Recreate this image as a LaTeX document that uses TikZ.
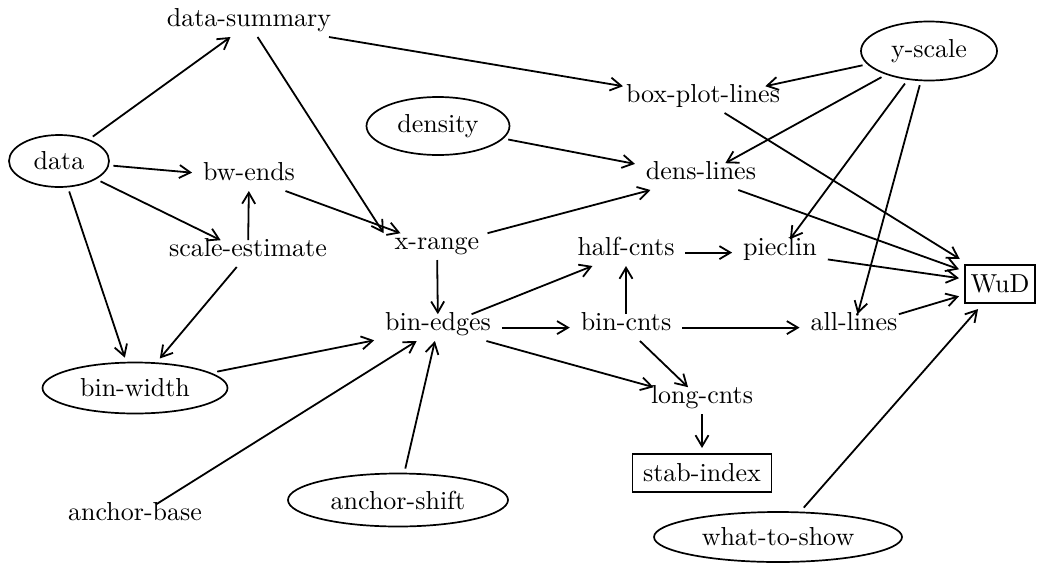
\documentclass[tikz,border=0pt]{standalone}
\usepackage{fontspec}
\setmainfont{lmroman10-regular.otf}
\usetikzlibrary{arrows.meta,shapes.geometric,calc}
\begin{document}
\begin{tikzpicture}[x=1pt,y=-1pt,
  font=\fontsize{26}{30}\selectfont,
  plain/.style={inner xsep=9pt, inner ysep=7pt, outer sep=2pt, text height=0.68em, text depth=0.2em, anchor=base},
  oval/.style={ellipse, draw, line width=1.7pt, inner sep=0pt, outer sep=5pt},
  boxn/.style={rectangle, draw, line width=1.7pt, inner sep=0pt, outer sep=6pt},
  arr/.style={line width=1.8pt, -{Straight Barb[length=11pt,width=13pt]}}]
\useasboundingbox (0,0) rectangle (1044,563);
% nodes
\node[plain] (ds) at (249,26) {data-summary};
\node[oval, minimum width=100pt, minimum height=52pt] (data) at (59,161) {data};
\node[plain] (bw) at (249,180) {bw-ends};
\node[plain] (se) at (248,256) {scale-estimate};
\node[oval, minimum width=185pt, minimum height=51pt] (bwd) at (135,388) {bin-width};
\node[plain] (ab) at (135,520) {anchor-base};
\node[oval, minimum width=220pt, minimum height=53pt] (as) at (398,500) {anchor-shift};
\node[plain] (xr) at (437,249) {x-range};
\node[plain] (be) at (438,330) {bin-edges};
\node[oval, minimum width=143pt, minimum height=58pt] (den) at (438,126) {density};
\node[plain] (bpl) at (703,102) {box-plot-lines};
\node[plain] (dl) at (701,179) {dens-lines};
\node[plain] (hc) at (626,255) {half-cnts};
\node[plain] (pc) at (780,255) {pieclin};
\node[plain] (bc) at (626,330) {bin-cnts};
\node[plain] (al) at (854,330) {all-lines};
\node[plain] (lc) at (702,403) {long-cnts};
\node[boxn, minimum width=139pt, minimum height=38pt] (si) at (702,473) {stab-index};
\node[oval, minimum width=136pt, minimum height=59pt] (ys) at (929,51) {y-scale};
\node[boxn, minimum width=70pt, minimum height=38pt] (wud) at (1000,284) {WuD};
\node[oval, minimum width=248pt, minimum height=50pt] (wts) at (778,537) {what-to-show};
% edges
\draw[arr] (data) -- (ds);
\draw[arr] (data) -- (bw);
\draw[arr] (data) -- (se);
\draw[arr] (data) -- (bwd);
\draw[arr] (ds) -- (bpl);
\draw[arr] (ds) -- (xr.north west);
\draw[arr] (se) -- (bw);
\draw[arr] (se) -- (bwd);
\draw[arr] (bw) -- (xr);
\draw[arr] (xr) -- (dl);
\draw[arr] (xr) -- (be);
\draw[arr] (den) -- (dl);
\draw[arr] (ys) -- (bpl);
\draw[arr] (ys) -- (dl);
\draw[arr] (ys) -- (pc);
\draw[arr] (ys) -- (al);
\draw[arr] (bpl) -- (wud);
\draw[arr] (dl) -- (wud);
\draw[arr] (pc) -- (wud);
\draw[arr] (al) -- (wud);
\draw[arr] (wts) -- (wud);
\draw[arr] (bwd) -- (be);
\draw[arr] (ab) -- (be);
\draw[arr] (as) -- (be);
\draw[arr] (be) -- (hc);
\draw[arr] (be) -- (bc);
\draw[arr] (be) -- (lc);
\draw[arr] (bc) -- (hc);
\draw[arr] (bc) -- (al);
\draw[arr] (bc) -- (lc);
\draw[arr] (hc) -- (pc);
\draw[arr] (lc) -- (si);
\end{tikzpicture}
\end{document}
